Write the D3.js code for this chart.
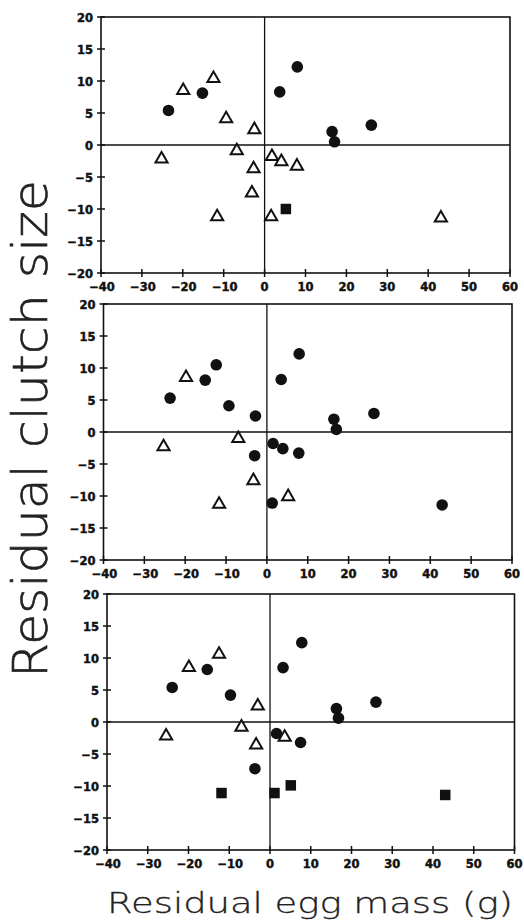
<!DOCTYPE html>
<html><head><meta charset="utf-8">
<script src="https://cdn.jsdelivr.net/npm/d3@7"></script>
<style>
html,body{margin:0;padding:0;background:#fff;}
svg{display:block;}
</style></head>
<body>
<script>
// ---- data ----
const xTicks = [-40,-30,-20,-10,0,10,20,30,40,50,60];
const yTicks = [-20,-15,-10,-5,0,5,10,15,20];
const yLabel = "Residual clutch size";
const xLabel = "Residual egg mass (g)";

// Panel 1
const p1Circles = [[-23.5,5.4],[-15.2,8.1],[3.7,8.3],[8.0,12.2],[16.5,2.1],[17.1,0.5],[26.1,3.1]];
const p1Triangles = [[-25.2,-2.2],[-19.9,8.5],[-12.5,10.4],[-9.4,4.1],[-2.5,2.4],[-6.8,-0.9],[1.8,-1.8],[4.1,-2.6],[7.9,-3.3],[-2.7,-3.7],[-3.1,-7.5],[-11.6,-11.2],[1.6,-11.2],[43.1,-11.4]];
const p1Squares = [[5.2,-10.0]];

// Panel 2
const p2Circles = [[-23.7,5.3],[-15.1,8.1],[-12.4,10.5],[-9.3,4.1],[-2.8,2.5],[3.5,8.2],[7.9,12.2],[16.4,2.0],[17.0,0.4],[26.2,2.9],[1.5,-1.8],[3.9,-2.6],[7.8,-3.3],[-3.0,-3.7],[1.3,-11.1],[42.9,-11.4]];
const p2Triangles = [[-25.3,-2.3],[-19.8,8.5],[-7.0,-1.0],[-3.3,-7.6],[-11.7,-11.3],[5.2,-10.1]];
const p2Squares = [];

// Panel 3
const p3Circles = [[-24.0,5.4],[-15.4,8.2],[-9.7,4.2],[3.2,8.5],[7.8,12.4],[16.3,2.1],[16.8,0.6],[26.0,3.1],[1.6,-1.8],[7.5,-3.2],[-3.7,-7.3]];
const p3Triangles = [[-25.5,-2.2],[-19.9,8.5],[-12.5,10.6],[-3.0,2.5],[-7.0,-0.8],[-3.4,-3.6],[3.6,-2.4]];
const p3Squares = [[-11.9,-11.1],[1.1,-11.1],[5.1,-9.9],[43.0,-11.4]];

const panels = [
  {circles:p1Circles, triangles:p1Triangles, squares:p1Squares, left:101, right:510, top:17},
  {circles:p2Circles, triangles:p2Triangles, squares:p2Squares, left:103.5, right:512, top:304},
  {circles:p3Circles, triangles:p3Triangles, squares:p3Squares, left:107, right:514.5, top:594}
];
const panelH = 256;

const W = 524, H = 923;
const svg = d3.select("body").append("svg").attr("width", W).attr("height", H);
const ink = "#111";
const tickFont = "'DejaVu Sans', sans-serif";

panels.forEach(p => {
  const x = d3.scaleLinear().domain([-40,60]).range([p.left, p.right]);
  const y = d3.scaleLinear().domain([-20,20]).range([p.top + panelH, p.top]);
  const g = svg.append("g");

  // frame
  g.append("rect").attr("x", x(-40)).attr("y", y(20))
    .attr("width", x(60)-x(-40)).attr("height", y(-20)-y(20))
    .attr("fill","none").attr("stroke", ink).attr("stroke-width", 1.6);
  // zero lines
  g.append("line").attr("x1", x(0)).attr("x2", x(0)).attr("y1", y(20)).attr("y2", y(-20))
    .attr("stroke", ink).attr("stroke-width", 1.3);
  g.append("line").attr("x1", x(-40)).attr("x2", x(60)).attr("y1", y(0)).attr("y2", y(0))
    .attr("stroke", ink).attr("stroke-width", 1.3);

  // x ticks (crossing)
  const by = y(-20);
  g.selectAll(".xt").data(xTicks).enter().append("line")
    .attr("x1", d=>x(d)).attr("x2", d=>x(d)).attr("y1", by-4).attr("y2", by+4)
    .attr("stroke", ink).attr("stroke-width", 1.5);
  g.selectAll(".xl").data(xTicks).enter().append("text")
    .attr("x", d=>x(d) + (d<0?1:0)).attr("y", by+18)
    .attr("text-anchor","middle").attr("font-family", tickFont).attr("font-weight",700)
    .attr("font-size", 11.5).attr("fill", ink).attr("stroke", ink).attr("stroke-width", 0.45)
    .text(d => d<0 ? "\u2212"+Math.abs(d) : d);

  // y ticks (crossing)
  const lx = x(-40);
  g.selectAll(".yt").data(yTicks).enter().append("line")
    .attr("x1", lx-4).attr("x2", lx+4).attr("y1", d=>y(d)).attr("y2", d=>y(d))
    .attr("stroke", ink).attr("stroke-width", 1.5);
  g.selectAll(".yl").data(yTicks).enter().append("text")
    .attr("x", lx-8).attr("y", d=>y(d)+4.5)
    .attr("text-anchor","end").attr("font-family", tickFont).attr("font-weight",700)
    .attr("font-size", 11.5).attr("fill", ink).attr("stroke", ink).attr("stroke-width", 0.45)
    .text(d => d<0 ? "\u2212"+Math.abs(d) : d);

  // circles
  g.selectAll(".c").data(p.circles).enter().append("circle")
    .attr("cx", d=>x(d[0])).attr("cy", d=>y(d[1])).attr("r", 5.8).attr("fill", ink);
  // squares
  const s = 10.5;
  g.selectAll(".s").data(p.squares).enter().append("rect")
    .attr("x", d=>x(d[0])-s/2).attr("y", d=>y(d[1])-s/2).attr("width", s).attr("height", s).attr("fill", ink);
  // triangles
  const tri = d3.symbol().type(d3.symbolTriangle).size(64);
  g.selectAll(".t").data(p.triangles).enter().append("path")
    .attr("d", tri).attr("transform", d=>`translate(${x(d[0])},${y(d[1])})`)
    .attr("fill","#fff").attr("stroke", ink).attr("stroke-width", 2);
});

// axis titles
svg.append("text")
  .attr("transform", "translate(47,429) rotate(-90)")
  .attr("text-anchor","middle")
  .attr("font-family", "'DejaVu Sans', sans-serif").attr("font-weight", 200)
  .attr("font-size", 48).attr("fill", "#222").attr("stroke", "#222").attr("stroke-width", 0.6)
  .attr("textLength", 498).attr("lengthAdjust","spacingAndGlyphs")
  .text(yLabel);

svg.append("text")
  .attr("x", 310).attr("y", 913)
  .attr("text-anchor","middle")
  .attr("font-family", "'DejaVu Sans', sans-serif").attr("font-weight", 200)
  .attr("font-size", 29).attr("fill", "#222").attr("stroke", "#222").attr("stroke-width", 0.3)
  .attr("textLength", 406).attr("lengthAdjust","spacingAndGlyphs")
  .text(xLabel);
</script>
</body></html>
